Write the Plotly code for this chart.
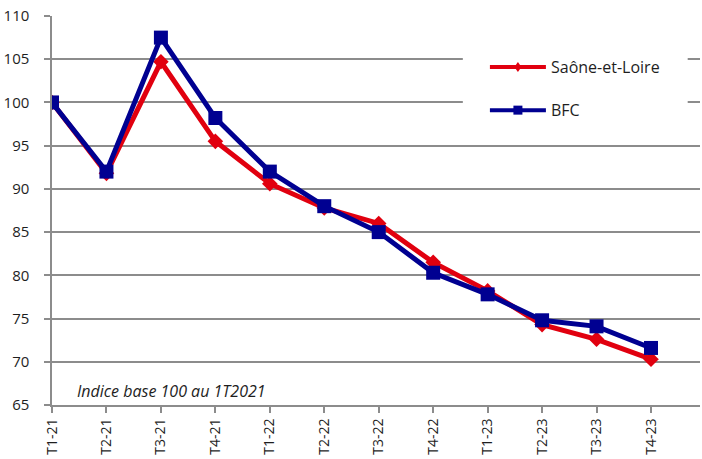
import plotly.graph_objects as go

# Quarterly index, base 100 in Q1 2021
trimestres = ["T1-21", "T2-21", "T3-21", "T4-21", "T1-22", "T2-22",
              "T3-22", "T4-22", "T1-23", "T2-23", "T3-23", "T4-23"]
saone_et_loire = [100.0, 91.8, 104.7, 95.5, 90.6, 87.8,
                  86.0, 81.5, 78.2, 74.3, 72.6, 70.3]
bfc = [100.0, 92.0, 107.5, 98.2, 92.0, 88.0,
       85.0, 80.3, 77.8, 74.8, 74.1, 71.6]

ROUGE = "#E1000F"
BLEU = "#000091"
GRIS = "#8C8C8C"
TEXTE = "#1E1E1E"
FONT = "Open Sans"
NBSP = "\u00a0"

x_idx = list(range(len(trimestres)))

fig = go.Figure()
fig.add_trace(go.Scatter(
    x=x_idx, y=saone_et_loire, name="Saône-et-Loire", mode="lines+markers",
    line=dict(color=ROUGE, width=5),
    marker=dict(symbol="diamond", size=12, color=ROUGE),
))
fig.add_trace(go.Scatter(
    x=x_idx, y=bfc, name="BFC", mode="lines+markers",
    line=dict(color=BLEU, width=5),
    marker=dict(symbol="square", size=14, color=BLEU),
))

fig.update_layout(
    width=702, height=459,
    margin=dict(l=52, r=2, t=16, b=54),
    paper_bgcolor="white", plot_bgcolor="white",
    font=dict(family=FONT, size=14, color=TEXTE),
    showlegend=False,
)

fig.update_xaxes(
    range=[0, 11.9], automargin=False,
    tickmode="array", tickvals=x_idx, ticktext=trimestres,
    tickangle=-90, ticks="outside", ticklen=6, tickwidth=2, tickcolor=GRIS,
    showline=True, linecolor=GRIS, linewidth=2,
    showgrid=False, zeroline=False,
    tickfont=dict(family=FONT, size=14, color=TEXTE),
)
fig.update_yaxes(
    range=[65, 110], dtick=5, automargin=False,
    ticksuffix=NBSP * 3,
    ticks="outside", ticklen=6, tickwidth=2, tickcolor=GRIS,
    showline=True, linecolor=GRIS, linewidth=2,
    showgrid=True, gridcolor=GRIS, gridwidth=2,
    zeroline=False,
    tickfont=dict(family=FONT, size=15, color=TEXTE),
)

# Legend box drawn by hand: white panel, long line keys with small markers
fig.add_shape(type="rect", xref="paper", yref="paper",
              x0=0.634, x1=0.981, y0=0.69, y1=0.975,
              fillcolor="white", line_width=0, layer="above")

legend_items = [
    ("Saône-et-Loire", ROUGE, "diamond", 0.869),
    ("BFC", BLEU, "square", 0.758),
]
key_x = 0.719  # paper x of the key centre
for label, colour, symbol, ypos in legend_items:
    fig.add_shape(type="line", xref="paper", yref="paper",
                  xsizemode="pixel", xanchor=key_x,
                  x0=-28, x1=28, y0=ypos, y1=ypos,
                  line=dict(color=colour, width=4), layer="above")
    if symbol == "diamond":
        path = "M0,5 L3.5,0 L0,-5 L-3.5,0 Z"
    else:
        path = "M-4.5,-4.5 L4.5,-4.5 L4.5,4.5 L-4.5,4.5 Z"
    fig.add_shape(type="path", xref="paper", yref="paper",
                  xsizemode="pixel", ysizemode="pixel",
                  xanchor=key_x, yanchor=ypos, path=path,
                  fillcolor=colour, line_width=0, layer="above")
    fig.add_annotation(x=key_x, y=ypos, xref="paper", yref="paper",
                       xanchor="left", yanchor="middle", xshift=31,
                       text=label, showarrow=False,
                       font=dict(family=FONT, size=16, color=TEXTE))

fig.add_annotation(
    x=0.035, y=0, xref="paper", yref="paper",
    xanchor="left", yanchor="bottom", yshift=1,
    text="<i>Indice base 100 au 1T2021</i>", showarrow=False,
    font=dict(family=FONT, size=16, color=TEXTE),
)

fig.write_html("out.html")
